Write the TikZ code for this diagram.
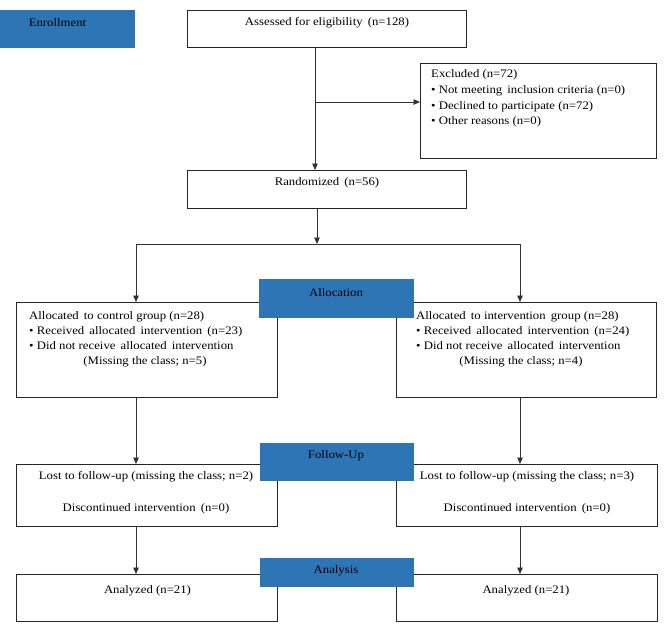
\documentclass[tikz,border=0pt]{standalone}
\usepackage{fontspec}
\setmainfont{Liberation Serif}[FakeStretch=1.11]
\usetikzlibrary{arrows.meta}
\definecolor{hdr}{RGB}{46,117,182}
\begin{document}
\begin{tikzpicture}[x=1pt,y=-1pt,
  box/.style={draw=black!85, line width=1.2pt, fill=white, inner sep=0pt, anchor=north west},
  hdrbox/.style={fill=hdr, draw=none, inner sep=0pt, anchor=north west},
  txt/.style={inner sep=0pt, font=\fontsize{11.5}{14}\selectfont, anchor=mid},
  txtl/.style={txt, anchor=mid west},
  arr/.style={line width=0.8pt, draw=black!80, -{Triangle[length=6.5pt,width=5.5pt]}}]
\useasboundingbox (0,0) rectangle (664,625);

% white boxes
\node[box, minimum width=279pt, minimum height=37.5pt] (assess) at (187,9.5) {};
\node[box, minimum width=236pt, minimum height=95pt] (excl) at (420,63) {};
\node[box, minimum width=279pt, minimum height=37.5pt] (rand) at (187,170) {};
\node[box, minimum width=261pt, minimum height=95pt] (ctrl) at (16,302) {};
\node[box, minimum width=260pt, minimum height=95pt] (intv) at (396,302) {};
\node[box, minimum width=261pt, minimum height=62pt] (lostL) at (16,464) {};
\node[box, minimum width=261pt, minimum height=62pt] (lostR) at (396,464) {};
\node[box, minimum width=261pt, minimum height=47pt] (anaL) at (16,574) {};
\node[box, minimum width=261pt, minimum height=47pt] (anaR) at (396,574) {};

% blue header boxes
\node[hdrbox, minimum width=135pt, minimum height=37.5pt] (enrollB) at (0,10) {};
\node[hdrbox, minimum width=155pt, minimum height=39pt] (allocB) at (259,279) {};
\node[hdrbox, minimum width=154pt, minimum height=38pt] (followB) at (260,443) {};
\node[hdrbox, minimum width=154pt, minimum height=29pt] (analysisB) at (260,558) {};

% column coordinates
\coordinate (trunk) at (315,0);
\coordinate (bry) at (0,102);
\coordinate (split) at (317,244);
\coordinate (lcol) at (136,0);
\coordinate (rcol) at (520,0);

% connectors
\draw[arr] (assess.south -| trunk) -- (rand.north -| trunk);
\draw[arr] (trunk |- bry) -- (excl.west |- bry);
\draw[arr] (rand.south -| split) -- (split);
\draw[arr] (split) -| (ctrl.north -| lcol);
\draw[arr] (split) -| (intv.north -| rcol);
\draw[arr] (ctrl.south -| lcol) -- (lostL.north -| lcol);
\draw[arr] (intv.south -| rcol) -- (lostR.north -| rcol);
\draw[arr] (lostL.south -| lcol) -- (anaL.north -| lcol);
\draw[arr] (lostR.south -| rcol) -- (anaR.north -| rcol);

% texts
\node[txt] (enrollT) at (57.5,24) {Enrollment};
\node[txt] (allocT) at (336,294) {Allocation};
\node[txt] (followT) at (336,456) {Follow-Up};
\node[txt] (analysisT) at (336,571.5) {Analysis};

\node[txt] (assessT) at (327,23.5) {Assessed for eligibility\, (n=128)};
\node[txtl] (exclT1) at (431,75) {Excluded (n=72)};
\node[txtl] (exclT2) at (431,91) {\textbullet\ Not meeting\, inclusion criteria (n=0)};
\node[txtl] (exclT3) at (431,106.7) {\textbullet\ Declined to participate (n=72)};
\node[txtl] (exclT4) at (431,122.3) {\textbullet\ Other reasons (n=0)};
\node[txt] (randT) at (327,183) {Randomized\, (n=56)};

\node[txtl] (ctrlT1) at (29,316.7) {Allocated\, to control group (n=28)};
\node[txtl] (ctrlT2) at (29,332.2) {\textbullet\ Received\, allocated\, intervention\, (n=23)};
\node[txtl] (ctrlT3) at (29,347) {\textbullet\ Did not receive\, allocated\, intervention};
\node[txt] (ctrlT4) at (145,361.7) {(Missing the class; n=5)};

\node[txtl] (intvT1) at (416,316.7) {Allocated\, to intervention\, group (n=28)};
\node[txtl] (intvT2) at (416,332.2) {\textbullet\ Received\, allocated\, intervention\, (n=24)};
\node[txtl] (intvT3) at (416,347) {\textbullet\ Did not receive\, allocated\, intervention};
\node[txt] (intvT4) at (521,361.7) {(Missing the class; n=4)};

\node[txt] (lostLT1) at (146,476.7) {Lost to follow-up (missing the class; n=2)};
\node[txt] (lostLT2) at (146,509) {Discontinued intervention\, (n=0)};
\node[txt] (lostRT1) at (527,476.7) {Lost to follow-up (missing the class; n=3)};
\node[txt] (lostRT2) at (527,509) {Discontinued intervention\, (n=0)};

\node[txt] (anaLT) at (147.5,591) {Analyzed (n=21)};
\node[txt] (anaRT) at (526,591) {Analyzed (n=21)};
\end{tikzpicture}
\end{document}
